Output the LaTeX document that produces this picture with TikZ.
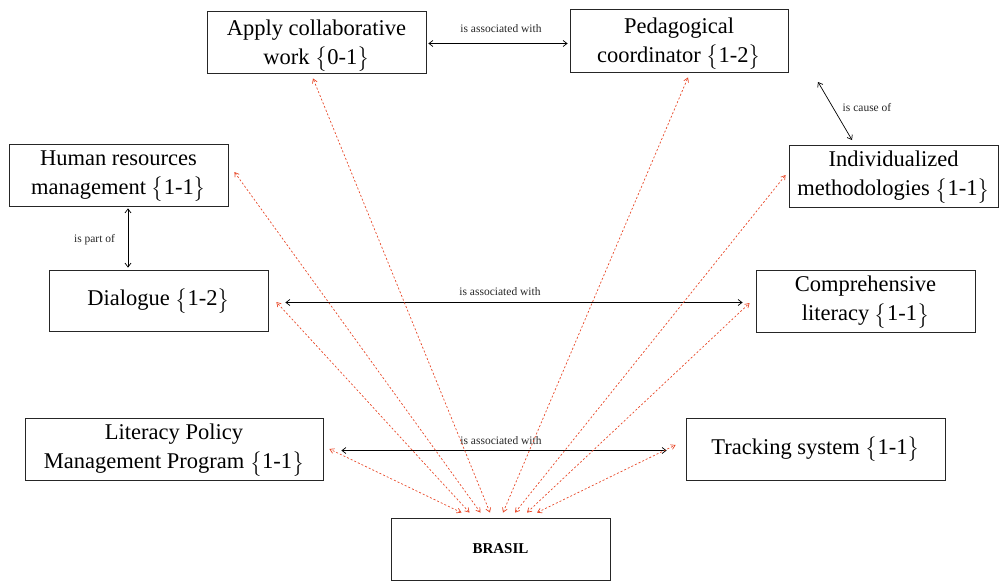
\documentclass[tikz,border=0pt]{standalone}
\usepackage{amsmath}
\usepackage{fontspec}
\setmainfont{Liberation Serif}
\usetikzlibrary{arrows.meta}
\definecolor{relred}{RGB}{232,72,40}
\newcommand\cbr[1]{\smash{$\big\{$}#1\smash{$\big\}$}}
\begin{document}
\begin{tikzpicture}[x=1pt,y=-1pt,
  box/.style={draw=black!85, line width=0.8pt, align=center, inner sep=0pt,
    font=\fontsize{22.5}{29}\selectfont, minimum height=62pt},
  lbl/.style={font=\fontsize{11.5}{13}\selectfont, inner sep=1pt, text=black!85},
  link/.style={{Straight Barb[length=4pt,width=6pt]}-{Straight Barb[length=4pt,width=6pt]}, line width=0.7pt},
  rel/.style={relred, line width=0.7pt, dash pattern=on 2pt off 2pt,
    {Straight Barb[length=4pt,width=5pt]}-{Straight Barb[length=4pt,width=5pt]}}]
\useasboundingbox (0,0) rectangle (1000,581);

\node[box, minimum width=219pt] (apply) at (316.5,42) {Apply collaborative\\work \cbr{0-1}};
\node[box, minimum width=218pt, minimum height=63pt] (ped) at (679,40.5) {Pedagogical\\coordinator \cbr{1-2}};
\node[box, minimum width=219pt] (human) at (118.5,175) {Human resources\\management \cbr{1-1}};
\node[box, minimum width=209pt] (indiv) at (893.5,176) {Individualized\\methodologies \cbr{1-1}};
\node[box, minimum width=219pt, minimum height=61pt] (dialogue) at (158.5,300.5) {Dialogue \cbr{1-2}};
\node[box, minimum width=219pt] (compr) at (865.5,301) {Comprehensive\\literacy \cbr{1-1}};
\node[box, minimum width=298pt] (literacy) at (174,449) {Literacy Policy\\Management Program \cbr{1-1}};
\node[box, minimum width=259pt] (tracking) at (815.5,449) {Tracking system \cbr{1-1}};
\node[box, minimum width=219pt, font=\fontsize{15}{17}\selectfont\bfseries] (brasil) at (500.5,549) {BRASIL};

% black relations
\draw[link] ([xshift=2pt,yshift=-1.5pt]apply.east) -- ([xshift=-2pt,yshift=-1.5pt]apply.east -| ped.west);
\node[lbl] (l1) at (501,29) {is associated with};

\draw[link] ([xshift=9.5pt,yshift=-2pt]human.south) -- ([xshift=-30.5pt,yshift=2pt]dialogue.north);
\node[lbl] (l2) at (94.5,240) {is part of};

\coordinate (c1) at (818,82);
\coordinate (c2) at (852,140);
\draw[link] (c1) -- (c2);
\node[lbl] (l3) at (867,108) {is cause of};

\draw[link] ([xshift=17pt,yshift=-2pt]dialogue.east) -- ([xshift=-13pt,yshift=-1.5pt]compr.west);
\node[lbl] (l4) at (500,292) {is associated with};

\draw[link] ([xshift=18pt,yshift=-1.5pt]literacy.east) -- ([xshift=-19pt,yshift=-1.5pt]tracking.west);
\node[lbl] (l5) at (501,441) {is associated with};

% red relations to BRASIL
\draw[rel] ([xshift=-39pt,yshift=5pt]brasil.north) -- ([xshift=6pt]literacy.east);
\draw[rel] ([xshift=-31pt,yshift=5pt]brasil.north) -- ([xshift=8pt,yshift=-1.5pt]dialogue.east);
\draw[rel] ([xshift=-20pt,yshift=5pt]brasil.north) -- ([xshift=6pt,yshift=3pt]human.east);
\draw[rel] ([xshift=-10.5pt,yshift=5pt]brasil.north) -- ([xshift=-3.5pt,yshift=-5pt]apply.south);
\draw[rel] ([xshift=2.5pt,yshift=5pt]brasil.north) -- ([xshift=9pt,yshift=-5pt]ped.south);
\draw[rel] ([xshift=14.5pt,yshift=5pt]brasil.north) -- ([xshift=-3pt,yshift=1pt]indiv.west);
\draw[rel] ([xshift=26.5pt,yshift=5pt]brasil.north) -- ([xshift=-6pt,yshift=-2pt]compr.west);
\draw[rel] ([xshift=36.5pt,yshift=5pt]brasil.north) -- ([xshift=-10pt,yshift=4pt]tracking.west);
\end{tikzpicture}
\end{document}
